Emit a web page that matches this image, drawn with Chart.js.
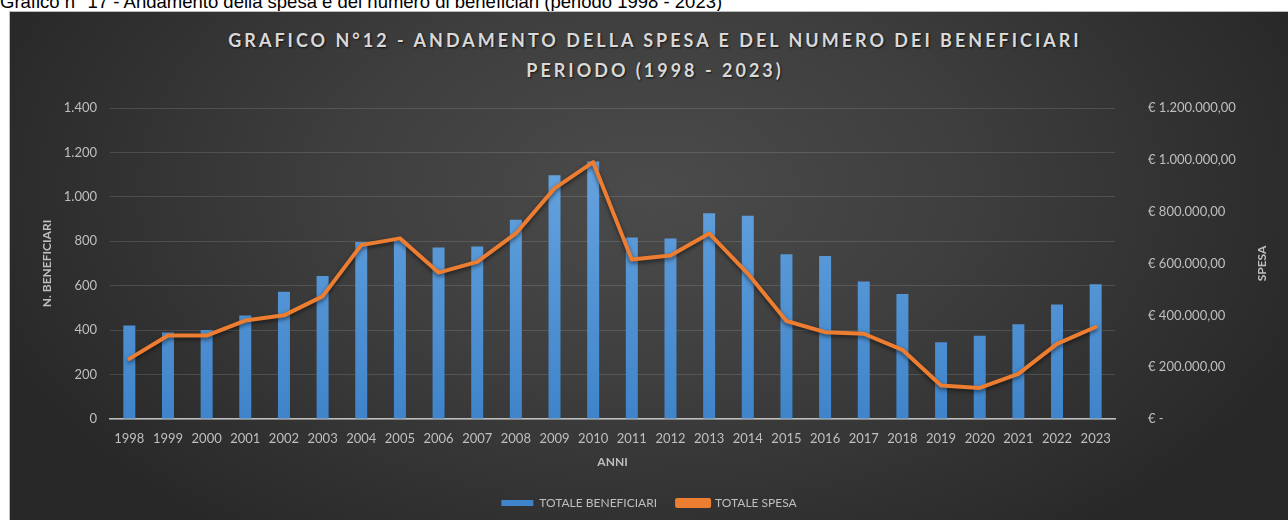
<!DOCTYPE html>
<html>
<head>
<meta charset="utf-8">
<script src="https://cdn.jsdelivr.net/npm/chart.js@4/dist/chart.umd.min.js"></script>
<style>
  html, body { margin: 0; padding: 0; background: #fff; overflow: hidden; }
  body { width: 1288px; height: 520px; position: relative; }
  #caption {
    position: absolute; left: 0; top: -7px;
    font-family: "Liberation Sans", Arial, sans-serif; font-size: 18.5px; line-height: 18.5px;
    color: #000; white-space: nowrap;
  }
  #box {
    position: absolute; left: 9px; top: 11px; width: 1279px; height: 509px;
    border-top: 1px solid #bdbdbd; border-left: 1px solid #bdbdbd;
    background: radial-gradient(ellipse 55% 85% at 50% 35%, #4b4b4b 0%, #3e3e3e 45%, #282828 100%);
  }
  #title {
    position: absolute; left: 0; width: 1310px; top: 25px; text-align: center;
    font-family: Lato, "Open Sans", sans-serif; font-weight: bold; font-size: 18px; line-height: 30px;
    letter-spacing: 3px; color: #d9d9d9; text-shadow: 1px 1px 2px rgba(0,0,0,0.7);
  }
  #wrap { position: absolute; left: 10px; top: 12px; width: 1278px; height: 508px; }
</style>
</head>
<body>
<div id="caption">Grafico n° 17 - Andamento della spesa e del numero di beneficiari (periodo 1998 - 2023)</div>
<div id="box"></div>
<div id="title">GRAFICO N°12 - ANDAMENTO DELLA SPESA E DEL NUMERO DEI BENEFICIARI<br>PERIODO (1998 - 2023)</div>
<div id="wrap"><canvas id="chart"></canvas></div>
<script>
// data
const years = ['1998','1999','2000','2001','2002','2003','2004','2005','2006','2007','2008','2009','2010',
               '2011','2012','2013','2014','2015','2016','2017','2018','2019','2020','2021','2022','2023'];
const beneficiari = [421, 389, 401, 466, 573, 644, 797, 803, 772, 777, 897, 1097, 1159,
                     817, 813, 926, 915, 742, 734, 619, 563, 346, 375, 426, 515, 607];
const spesa = [232000, 322000, 322000, 380000, 400000, 473000, 671000, 697000, 565000, 606000, 716000, 890000, 991000,
               615000, 631000, 716000, 561000, 378000, 335000, 329000, 267000, 129000, 120000, 174000, 290000, 355000];

const textColor = '#bfbfbf';
const fontFamily = 'Lato, "Open Sans", sans-serif';

function thousands(v) {
    return String(Math.round(v)).replace(/\B(?=(\d{3})+(?!\d))/g, '.');
}

// bars get a vertical blue gradient
function barFill(context) {
    const area = context.chart.chartArea;
    if (!area) return '#5b9bd5';
    const g = context.chart.ctx.createLinearGradient(0, area.top, 0, area.bottom);
    g.addColorStop(0, '#6eaae3');
    g.addColorStop(1, '#3f84ca');
    return g;
}

// soft shadow under the orange line
const lineShadow = {
    id: 'lineShadow',
    beforeDatasetDraw(chart, args) {
        if (args.index !== 1) return;
        const c = chart.ctx;
        c.save();
        c.shadowColor = 'rgba(0,0,0,0.55)';
        c.shadowBlur = 4;
        c.shadowOffsetY = 2;
    },
    afterDatasetDraw(chart, args) {
        if (args.index !== 1) return;
        chart.ctx.restore();
    }
};

// right axis title reads bottom-to-top like the left one
const rightTitle = {
    id: 'rightTitle',
    afterDraw(chart) {
        const s = chart.scales.y1;
        const c = chart.ctx;
        c.save();
        c.translate(s.right - 26, (s.top + s.bottom) / 2);
        c.rotate(-Math.PI / 2);
        c.fillStyle = textColor;
        c.font = 'bold 12px ' + fontFamily;
        c.textAlign = 'center';
        c.textBaseline = 'middle';
        c.fillText('SPESA', 0, 0);
        c.restore();
    }
};

Chart.defaults.font.family = fontFamily;
Chart.defaults.color = textColor;

new Chart(document.getElementById('chart'), {
    type: 'bar',
    data: {
        labels: years,
        datasets: [{
            type: 'bar',
            label: 'TOTALE BENEFICIARI',
            data: beneficiari,
            yAxisID: 'y',
            backgroundColor: barFill,
            barPercentage: 0.62,
            categoryPercentage: 0.5,
            order: 2
        }, {
            type: 'line',
            label: 'TOTALE SPESA',
            data: spesa,
            yAxisID: 'y1',
            borderColor: '#ed7d31',
            backgroundColor: '#ed7d31',
            borderWidth: 4,
            borderJoinStyle: 'round',
            borderCapStyle: 'round',
            tension: 0,
            pointRadius: 0,
            order: 1
        }]
    },
    options: {
        responsive: true,
        maintainAspectRatio: false,
        animation: false,
        layout: { padding: { top: 96, bottom: 1, left: 0, right: 0 } },
        plugins: {
            title: { display: false },
            tooltip: { enabled: false },
            legend: {
                position: 'bottom',
                labels: {
                    boxWidth: 32,
                    boxHeight: 6,
                    padding: 20,
                    color: textColor,
                    font: { size: 12 },
                    sort: (a, b) => a.datasetIndex - b.datasetIndex
                }
            }
        },
        scales: {
            x: {
                grid: { display: false, drawTicks: false },
                border: { color: '#bfbfbf', width: 1.5 },
                ticks: { padding: 12, font: { size: 13 }, color: textColor, maxRotation: 0, autoSkip: false },
                title: { display: true, text: 'ANNI', color: textColor, font: { size: 12, weight: 'bold' }, padding: { top: 0, bottom: 8 } },
                afterFit(scale) { scale.height = 58; }
            },
            y: {
                position: 'left',
                min: 0, max: 1400,
                ticks: { stepSize: 200, padding: 13, font: { size: 13 }, color: textColor, callback: v => thousands(v) },
                grid: { color: 'rgba(255,255,255,0.13)', drawTicks: false },
                border: { display: false },
                title: { display: true, text: 'N. BENEFICIARI', color: textColor, font: { size: 12, weight: 'bold' }, padding: { top: 30, bottom: 0 } },
                afterFit(scale) { scale.width = 100; }
            },
            y1: {
                position: 'right',
                min: 0, max: 1200000,
                ticks: {
                    stepSize: 200000, padding: 33, font: { size: 13 }, color: textColor,
                    callback: v => v === 0 ? '€ -' : '€ ' + thousands(v) + ',00'
                },
                grid: { display: false, drawTicks: false },
                border: { display: false },
                title: { display: false, text: 'SPESA' },
                afterFit(scale) { scale.width = 173; }
            }
        }
    },
    plugins: [lineShadow, rightTitle]
});
</script>
</body>
</html>
